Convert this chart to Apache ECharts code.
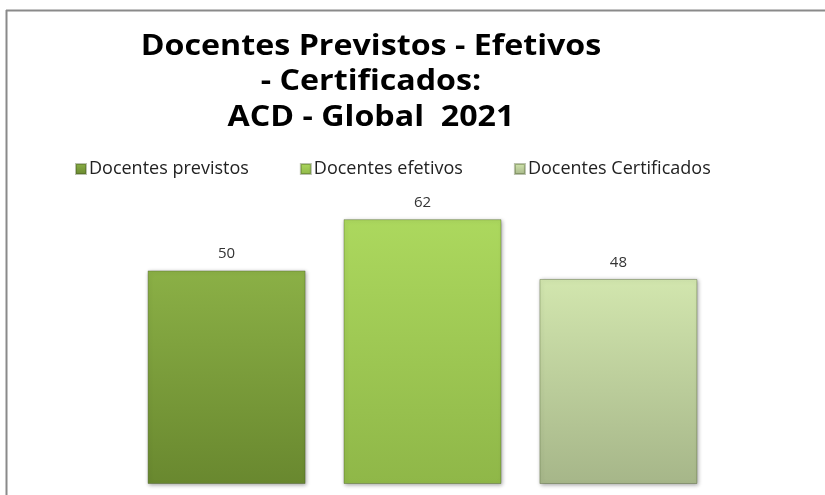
<!DOCTYPE html>
<html>
<head>
<meta charset="utf-8">
<script src="https://cdn.jsdelivr.net/npm/echarts@6/dist/echarts.min.js"></script>
<style>
  html, body { margin: 0; padding: 0; background: #fff; }
  #chart { width: 825px; height: 495px; }
</style>
</head>
<body>
<div id="chart"></div>
<script>
// Teachers planned / effective / certified, ACD - Global 2021
const titleLines = ['Docentes Previstos - Efetivos', '- Certificados:', 'ACD - Global  2021'];
const categories = ['ACD - Global 2021'];
const seriesNames = ['Docentes previstos', 'Docentes efetivos', 'Docentes Certificados'];
const previstos = [50];
const efetivos = [62];
const certificados = [48];

// top / bottom gradient colours for each series
const palette = [
  ['#8bb046', '#69882f'],
  ['#acd85e', '#8fb748'],
  ['#d2e6ae', '#a6b689']
];

function grad(c) {
  return new echarts.graphic.LinearGradient(0, 0, 0, 1, [
    { offset: 0, color: c[0] },
    { offset: 1, color: c[1] }
  ]);
}

const values = [previstos, efetivos, certificados];

const chart = echarts.init(document.getElementById('chart'), null, { renderer: 'canvas' });

// title drawn as stretched text lines
const titleGraphics = titleLines.map((line, i) => ({
  type: 'text',
  x: 371,
  y: 47 + i * 35.5,
  scaleX: 1.15,
  style: {
    text: line,
    align: 'center',
    verticalAlign: 'middle',
    fontFamily: 'Open Sans, sans-serif',
    fontWeight: 'bold',
    fontSize: 28,
    fill: '#000000'
  }
}));

chart.setOption({
  backgroundColor: '#ffffff',
  animation: false,
  legend: {
    data: seriesNames.map((n, i) => ({
      name: n,
      itemStyle: { color: grad(palette[i]) }
    })),
    left: 70,
    top: 155,
    icon: 'rect',
    itemWidth: 10,
    itemHeight: 10,
    itemGap: 51,
    textStyle: {
      fontFamily: 'Open Sans, sans-serif',
      fontSize: 18,
      color: '#222222',
      padding: [0, 0, 0, -2]
    }
  },
  graphic: [
    { type: 'line', shape: { x1: 6.5, y1: 10, x2: 6.5, y2: 495 }, style: { stroke: '#8a8a8a', lineWidth: 2 } },
    { type: 'line', shape: { x1: 6, y1: 10.5, x2: 825, y2: 10.5 }, style: { stroke: '#8a8a8a', lineWidth: 2 } }
  ].concat(titleGraphics),
  grid: { left: 100, right: 80, top: 185, bottom: 11 },
  xAxis: {
    type: 'category',
    data: categories,
    show: false
  },
  yAxis: {
    type: 'value',
    min: 0,
    max: 70,
    show: false
  },
  series: seriesNames.map((name, i) => ({
    name: name,
    type: 'bar',
    data: values[i],
    barWidth: 158,
    barGap: '24%',
    itemStyle: {
      color: grad(palette[i]),
      borderColor: 'rgba(60,80,30,0.35)',
      borderWidth: 1,
      shadowColor: 'rgba(0,0,0,0.35)',
      shadowBlur: 4,
      shadowOffsetX: 1,
      shadowOffsetY: 1
    },
    label: {
      show: true,
      position: 'top',
      distance: 9,
      fontFamily: 'Open Sans, sans-serif',
      fontSize: 15,
      color: '#333333'
    }
  }))
});
</script>
</body>
</html>
